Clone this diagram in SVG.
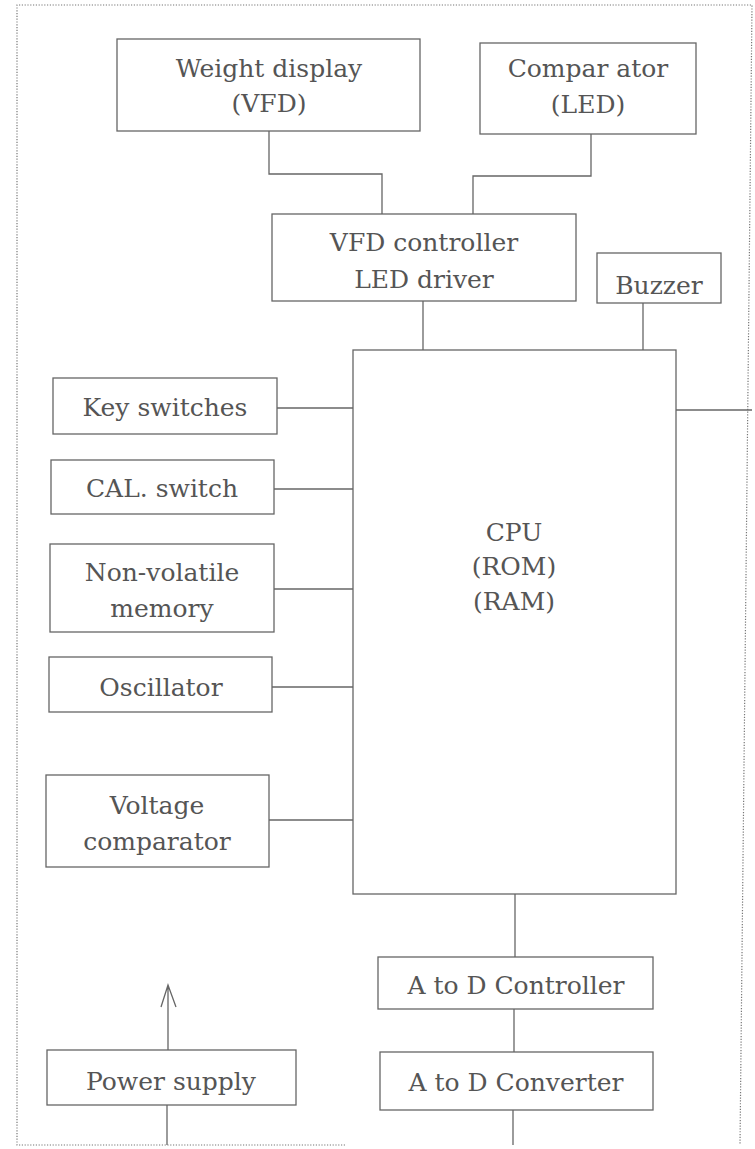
<svg xmlns="http://www.w3.org/2000/svg" width="755" height="1149" viewBox="0 0 755 1149">
<style>
.box{fill:#fff;stroke:#666;stroke-width:1.3}
.ln{fill:none;stroke:#666;stroke-width:1.3}
.bd{fill:none;stroke:#777;stroke-width:1.2;stroke-dasharray:1.2 1.6}
text{font-family:"DejaVu Serif","Liberation Serif",serif;font-size:25px;fill:#555;text-anchor:middle}
</style>
<rect width="755" height="1149" fill="#fff"/>
<path class="bd" d="M345,1145 L17,1145 L17,5 L752,5 L740,1145"/>
<g id="connectors">
<path class="ln" d="M269,131 V174 H382 V214"/>
<path class="ln" d="M591,134 V176 H473 V214"/>
<path class="ln" d="M423,301 V350"/>
<path class="ln" d="M643,303 V350"/>
<path class="ln" d="M676,410 H752"/>
<path class="ln" d="M277,408 H353"/>
<path class="ln" d="M274,489 H353"/>
<path class="ln" d="M274,589 H353"/>
<path class="ln" d="M272,687 H353"/>
<path class="ln" d="M269,820 H353"/>
<path class="ln" d="M515,894 V957"/>
<path class="ln" d="M514,1009 V1052"/>
<path class="ln" d="M513,1110 V1145"/>
<path class="ln" d="M168,1050 V985 M161,1007 L168,985 L176,1007"/>
<path class="ln" d="M167,1105 V1145"/>
</g>
<g id="weight-display"><rect class="box" x="117" y="39" width="303" height="92"/><text x="269" y="77">Weight display</text><text x="269" y="112">(VFD)</text></g>
<g id="comparator"><rect class="box" x="480" y="43" width="216" height="91"/><text x="588" y="77">Compar ator</text><text x="588" y="113">(LED)</text></g>
<g id="vfd-controller"><rect class="box" x="272" y="214" width="304" height="87"/><text x="424" y="251">VFD controller</text><text x="424" y="288">LED driver</text></g>
<g id="buzzer"><rect class="box" x="597" y="253" width="124" height="50"/><text x="659" y="294">Buzzer</text></g>
<g id="cpu"><rect class="box" x="353" y="350" width="323" height="544"/><text x="514" y="541">CPU</text><text x="514" y="575">(ROM)</text><text x="514" y="610">(RAM)</text></g>
<g id="key-switches"><rect class="box" x="53" y="378" width="224" height="56"/><text x="165" y="416">Key switches</text></g>
<g id="cal-switch"><rect class="box" x="51" y="460" width="223" height="54"/><text x="162" y="497">CAL. switch</text></g>
<g id="non-volatile-memory"><rect class="box" x="50" y="544" width="224" height="88"/><text x="162" y="581">Non-volatile</text><text x="162" y="617">memory</text></g>
<g id="oscillator"><rect class="box" x="49" y="657" width="223" height="55"/><text x="161" y="696">Oscillator</text></g>
<g id="voltage-comparator"><rect class="box" x="46" y="775" width="223" height="92"/><text x="157" y="814">Voltage</text><text x="157" y="850">comparator</text></g>
<g id="ad-controller"><rect class="box" x="378" y="957" width="275" height="52"/><text x="516" y="994">A to D Controller</text></g>
<g id="ad-converter"><rect class="box" x="380" y="1052" width="273" height="58"/><text x="516" y="1091">A to D Converter</text></g>
<g id="power-supply"><rect class="box" x="47" y="1050" width="249" height="55"/><text x="171" y="1090">Power supply</text></g>
</svg>
